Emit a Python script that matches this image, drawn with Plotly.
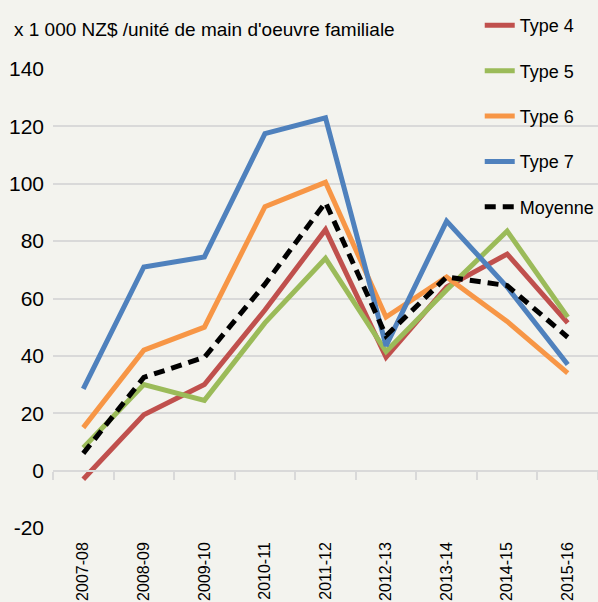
import plotly.graph_objects as go

categories = ["2007-08", "2008-09", "2009-10", "2010-11", "2011-12",
              "2012-13", "2013-14", "2014-15", "2015-16"]
type4 = [-3, 19.5, 30, 56, 84, 39.5, 64, 75.5, 51.5]
type5 = [8, 30, 24.5, 51.5, 74, 41.5, 63, 83.5, 53.5]
type6 = [15, 42, 50, 92, 100.5, 53.5, 67.5, 52, 34]
type7 = [28.5, 71, 74.5, 117.5, 123, 43.5, 87, 64, 37]
moyenne = [6, 32.5, 39.5, 65, 93.5, 47, 67.5, 64.5, 46.5]
y_ticks = [-20, 0, 20, 40, 60, 80, 100, 120, 140]
y_tick_labels = ["-20", "0", "20", "40", "60", "80", "100", "120", "140"]

FONT = "Liberation Sans, Arial, sans-serif"
BG = "#F3F3EE"
GRID = "#D9D9D9"

series = [
    ("Type 4", type4, "#C0504D", "solid"),
    ("Type 5", type5, "#9BBB59", "solid"),
    ("Type 6", type6, "#F79646", "solid"),
    ("Type 7", type7, "#4F81BD", "solid"),
    ("Moyenne", moyenne, "#000000", "11px,7px"),
]

fig = go.Figure()
for i, (name, vals, color, dash) in enumerate(series):
    fig.add_trace(go.Scatter(
        x=categories, y=vals, name=name, mode="lines",
        line=dict(color=color, width=5, dash=dash),
        legendgroup=f"g{i}",
    ))

# helper trace so the zero-line axis (ticks at category boundaries) renders
fig.add_trace(go.Scatter(x=[0], y=[None], xaxis="x2", showlegend=False,
                         hoverinfo="skip", mode="lines"))

fig.update_layout(
    width=598, height=602,
    margin=dict(l=53, r=0, t=69, b=74, autoexpand=False),
    paper_bgcolor=BG, plot_bgcolor=BG,
    font=dict(family=FONT, color="#000000"),
    showlegend=True,
    legend=dict(
        x=0.783, xanchor="left", y=1.135, yanchor="top",
        bgcolor="rgba(0,0,0,0)",
        font=dict(family=FONT, size=18, color="#000000"),
        tracegroupgap=19, itemwidth=30,
    ),
    xaxis=dict(
        type="category", categoryarray=categories, range=[-0.5, 8.5],
        showgrid=False, showline=False, ticks="", zeroline=False,
        tickangle=-90, tickfont=dict(family=FONT, size=16),
        automargin=False, ticklabelstandoff=10,
    ),
    xaxis2=dict(
        overlaying="x", anchor="free", position=0.125,
        range=[-0.5, 8.5], tickmode="array",
        tickvals=[i - 0.5 for i in range(len(categories) + 1)],
        ticks="outside", ticklen=8, tickwidth=2, tickcolor=GRID,
        showline=True, linecolor=GRID, linewidth=2,
        showticklabels=False, showgrid=False, zeroline=False,
        automargin=False,
    ),
    yaxis=dict(
        range=[-20, 140], tickmode="array", tickvals=y_ticks,
        ticktext=y_tick_labels,
        showgrid=True, gridcolor=GRID, gridwidth=2, zeroline=False,
        showline=False, ticks="", tickfont=dict(family=FONT, size=21),
        ticklabelstandoff=8, automargin=False,
    ),
    annotations=[dict(
        text="x 1 000 NZ$ /unité de main d'oeuvre familiale",
        xref="paper", yref="paper", x=-0.075, y=1.087,
        xanchor="left", yanchor="middle", showarrow=False,
        font=dict(family=FONT, size=19, color="#000000"),
    )],
)

fig.write_html("out.html", config={"displayModeBar": False},
               post_script="document.body.style.margin='0';")
